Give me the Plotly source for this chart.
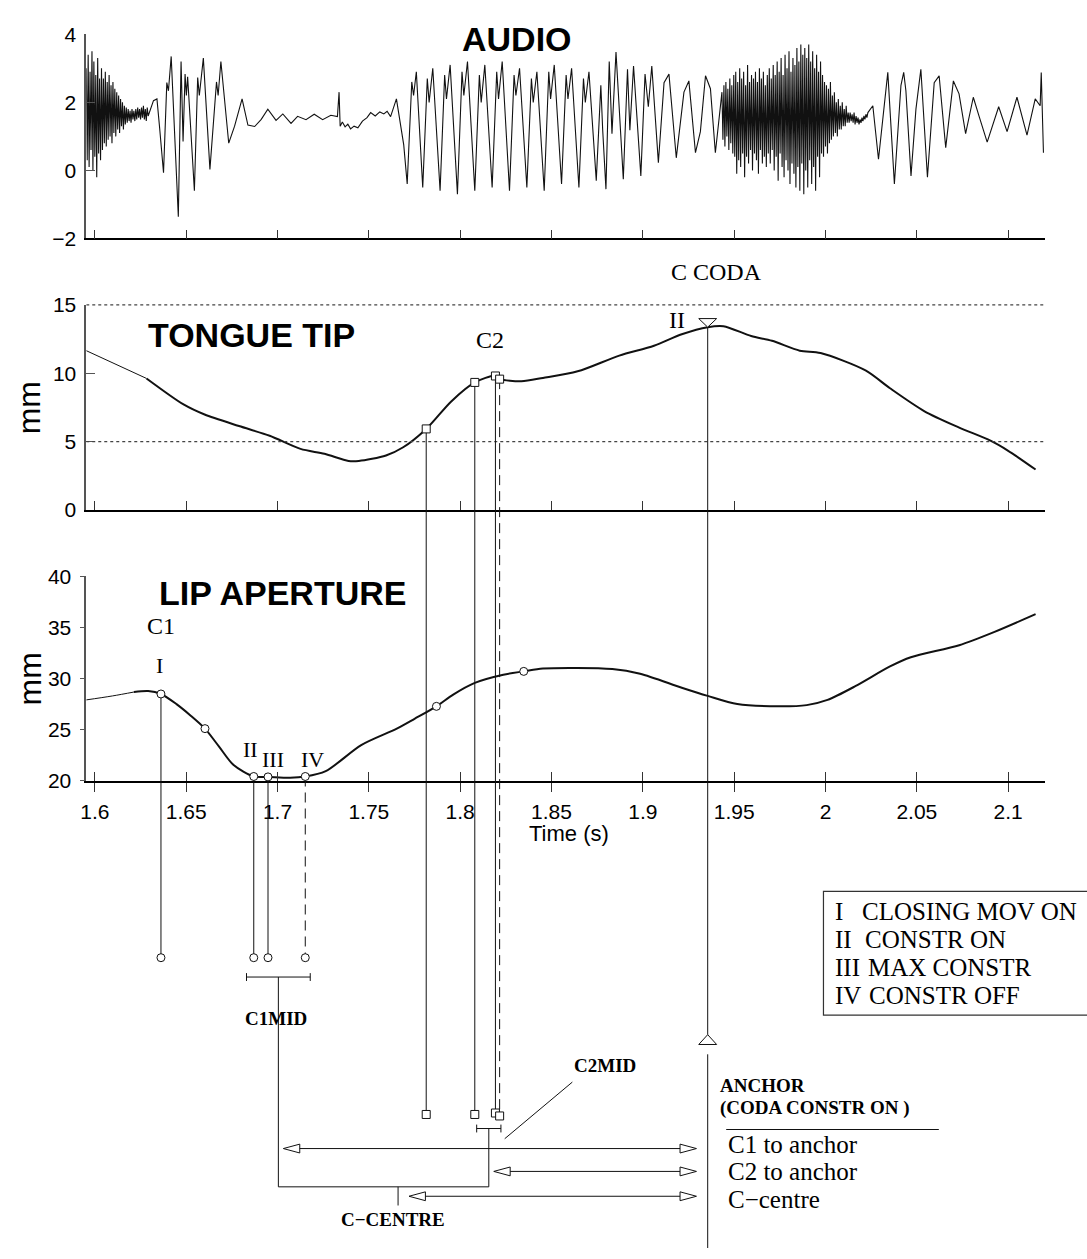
import numpy as np
import plotly.graph_objects as go

# ------------------------------------------------------------------ data
time_ticks = [1.6, 1.65, 1.7, 1.75, 1.8, 1.85, 1.9, 1.95, 2.0, 2.05, 2.1]
time_tick_labels = ["1.6", "1.65", "1.7", "1.75", "1.8", "1.85", "1.9", "1.95", "2", "2.05", "2.1"]
audio_ticks = [-2, 0, 2, 4]
tt_ticks = [0, 5, 10, 15]
tt_ref_levels = [5, 15]
lip_ticks = [20, 25, 30, 35, 40]

# audio: dense noise stretches (span + sample values) and vertex stretches (t, v)
audio_noise1_span = [1.5953, 1.6292]
audio_noise1_v = [3.0, 0.3, 3.4, 0.1, 2.9, 0.6, 3.5, 0.0, 3.2, 0.4, 2.8, -0.2, 3.3, 0.5, 2.7, 0.3,
                  3.0, 0.6, 2.7, 0.8, 2.9, 0.7, 2.6, 0.9, 2.8, 1.0, 2.5, 0.8, 2.6, 1.1,
                  2.4, 1.0, 2.3, 1.2, 2.2, 1.1, 2.1, 1.3, 2.0, 1.2,
                  1.9, 1.35, 1.85, 1.4, 1.8, 1.45, 1.75, 1.4, 1.8, 1.5, 1.75, 1.45, 1.8, 1.5,
                  1.85, 1.55, 1.8, 1.5, 1.85, 1.55, 1.9, 1.5, 1.8, 1.45, 1.85, 1.6]
audio_wave1_t = [1.6321, 1.6340, 1.6354, 1.6376, 1.6394, 1.6403, 1.6418, 1.6457, 1.6472, 1.6483,
                 1.6494, 1.6501, 1.6508, 1.6545, 1.6563, 1.6572, 1.6594, 1.6630, 1.6666, 1.6675,
                 1.6690, 1.6733, 1.6765, 1.6806, 1.6838, 1.6875, 1.6911, 1.6947, 1.6992, 1.7029,
                 1.7074, 1.7110, 1.7156, 1.7201, 1.7247, 1.7292, 1.7328, 1.7337, 1.7343, 1.7355,
                 1.7370, 1.7385, 1.7400, 1.7419, 1.7440, 1.7465, 1.7490, 1.7510, 1.7535, 1.7560,
                 1.7582, 1.7600, 1.7619, 1.7651, 1.7691]
audio_wave1_v = [2.05, 2.10, 1.29, -0.07, 2.58, 2.34, 3.35, -1.36, 3.20, 0.85,
                 2.83, 2.20, 2.75, -0.60, 2.73, 2.20, 3.30, 0.03, 2.60, 2.20,
                 3.20, 0.80, 1.30, 2.10, 1.33, 1.29, 1.50, 1.80, 1.47, 1.66,
                 1.38, 1.59, 1.49, 1.65, 1.49, 1.62, 1.58, 2.30, 1.30, 1.42,
                 1.28, 1.36, 1.22, 1.30, 1.25, 1.45, 1.55, 1.70, 1.60, 1.72,
                 1.66, 1.74, 1.58, 2.10, 0.75]
audio_wave2_t = [1.7710, 1.7735, 1.7745, 1.7760, 1.7795, 1.7820, 1.7830, 1.7850, 1.7890, 1.7915,
                 1.7925, 1.7945, 1.7985, 1.8010, 1.8020, 1.8040, 1.8080, 1.8105, 1.8115, 1.8135,
                 1.8175, 1.8200, 1.8210, 1.8230, 1.8270, 1.8295, 1.8305, 1.8325, 1.8365, 1.8390,
                 1.8400, 1.8420, 1.8460, 1.8485, 1.8495, 1.8515, 1.8555, 1.8580, 1.8590, 1.8610,
                 1.8650, 1.8675, 1.8685, 1.8705, 1.8745, 1.8770]
audio_wave2_v = [-0.4, 2.6, 2.2, 2.9, -0.5, 2.7, 2.0, 3.0, -0.6, 2.8,
                 2.1, 3.1, -0.7, 2.9, 2.2, 3.2, -0.6, 2.8, 2.0, 3.1,
                 -0.5, 2.9, 2.1, 3.2, -0.6, 2.8, 2.2, 3.0, -0.5, 2.7,
                 2.0, 2.9, -0.6, 2.9, 2.1, 3.1, -0.4, 2.8, 2.1, 3.0,
                 -0.5, 2.7, 2.0, 2.9, -0.3, 2.5]
audio_wave3_t = [1.8780, 1.8798, 1.8816, 1.8831, 1.8853, 1.8893, 1.8916, 1.8929, 1.8949, 1.8989,
                 1.9012, 1.9030, 1.9049, 1.9085, 1.9116, 1.9143, 1.9183, 1.9225, 1.9252, 1.9288,
                 1.9315, 1.9343, 1.9370, 1.9397, 1.9424]
audio_wave3_v = [1.2, -0.55, 3.20, 1.08, 3.48, -0.26, 2.97, 1.18, 3.07, -0.16,
                 2.83, 1.87, 3.07, 0.23, 2.58, 2.83, 0.37, 2.30, 2.63, 0.52,
                 1.14, 2.78, 2.40, 0.52, 1.87]
audio_noise2_span = [1.9433, 2.0232]
audio_noise2_v = [2.3, 0.9, 2.5, 0.7, 2.6, 1.0, 2.4, 0.6, 2.7, 0.8, 2.5, 0.5, 2.8, 0.4,
                  2.9, -0.1, 2.6, 0.3, 3.0, 0.1, 2.7, 0.5, 2.9, -0.2, 2.5, 0.4, 3.1, 0.2, 2.6, 0.6,
                  2.8, 0.0, 2.7, 0.5, 2.9, 0.3, 2.6, -0.1, 3.0, 0.6, 2.7, 0.2, 2.9, 0.4, 2.5, 0.1, 2.8, 0.5,
                  3.0, 0.2, 2.7, 0.6, 3.1, 0.0, 2.8, 0.4, 3.2, -0.3, 2.9, 0.5, 3.3, 0.1, 2.8, -0.2,
                  3.4, 0.3, 3.0, 0.0, 3.5, -0.4, 2.9, 0.2, 3.3, -0.1, 3.1,
                  -0.5, 3.6, 0.1, 3.2, -0.6, 3.7, 0.2, 3.4, -0.7, 3.6, 0.0, 3.3, -0.5, 3.7,
                  0.3, 3.2, -0.4, 3.5, 0.1, 3.0, -0.6, 3.4, 0.4, 2.9, -0.2, 3.2, 0.5,
                  2.8, 0.4, 2.6, 0.7, 2.5, 0.5, 2.4, 0.8, 2.6, 0.9, 2.2, 1.0, 2.3, 1.1,
                  2.0, 1.0, 2.1, 1.2, 1.9, 1.2, 2.0, 1.3, 1.8, 1.3, 1.9, 1.4, 1.7,
                  1.4, 1.7, 1.45, 1.65, 1.4, 1.7, 1.35, 1.6, 1.4, 1.55, 1.35, 1.5, 1.4, 1.55,
                  1.45, 1.6, 1.5, 1.65, 1.55, 1.7]
audio_wave4_t = [2.0259, 2.0290, 2.0341, 2.0377, 2.0413, 2.0428, 2.0440, 2.0468, 2.0495, 2.0522,
                 2.0558, 2.0595, 2.0622, 2.0658, 2.0700, 2.0731, 2.0767, 2.0809, 2.0840, 2.0885,
                 2.0948, 2.0994, 2.1048, 2.1103, 2.1148, 2.1175, 2.1181, 2.1186, 2.1193]
audio_wave4_v = [1.90, 0.33, 2.88, -0.40, 2.50, 2.88, 2.34, -0.16, 1.80, 2.97,
                 -0.20, 2.58, 2.78, 0.67, 2.63, 2.25, 1.08, 2.15, 1.60, 0.83,
                 1.87, 1.14, 2.15, 1.04, 2.10, 1.90, 2.88, 1.90, 0.52]

# tongue tip trajectory (mm)
tt_t = [1.5953, 1.6283, 1.6488, 1.6601, 1.6789, 1.6957, 1.7126, 1.7257, 1.7389, 1.7445,
        1.7594, 1.7688, 1.7814, 1.7951, 1.8080, 1.8190, 1.8218, 1.8335, 1.8453, 1.8643,
        1.8871, 1.9061, 1.9213, 1.9355, 1.9441, 1.9593, 1.9707, 1.9859, 1.9973, 2.0219,
        2.0353, 2.0542, 2.0732, 2.0903, 2.0998, 2.1150]
tt_v = [11.65, 9.62, 7.70, 6.98, 6.14, 5.43, 4.47, 4.11, 3.59, 3.59,
        3.99, 4.59, 5.93, 7.94, 9.33, 9.81, 9.57, 9.42, 9.66, 10.14,
        11.29, 12.01, 12.85, 13.37, 13.44, 12.72, 12.37, 11.65, 11.48, 10.21,
        8.90, 7.22, 6.03, 5.07, 4.35, 2.96]

# lip aperture trajectory (mm)
lip_t = [1.5953, 1.6097, 1.6214, 1.6292, 1.6362, 1.6447, 1.6525, 1.6603, 1.6680, 1.6758,
         1.6870, 1.6948, 1.7069, 1.7152, 1.7264, 1.7458, 1.7653, 1.7750, 1.7870, 1.7964,
         1.8080, 1.8236, 1.8348, 1.8453, 1.8833, 1.8985, 1.9213, 1.9355, 1.9517, 1.9745,
         1.9897, 2.0011, 2.0163, 2.0353, 2.0467, 2.0732, 2.0922, 2.1150]
lip_v = [27.93, 28.32, 28.70, 28.80, 28.51, 27.52, 26.39, 25.12, 23.36, 21.59,
         20.44, 20.40, 20.32, 20.44, 20.96, 23.51, 25.12, 26.08, 27.30, 28.48,
         29.60, 30.40, 30.72, 31.00, 30.95, 30.49, 29.12, 28.32, 27.52, 27.30,
         27.42, 27.93, 29.27, 31.20, 32.10, 33.28, 34.56, 36.32]

# landmark markers on the lip curve
lip_mark_t = [1.6362, 1.6603, 1.6870, 1.6948, 1.7152, 1.7870, 1.8348]
lip_mark_v = [28.51, 25.12, 20.44, 20.40, 20.44, 27.30, 30.72]

# C1 (lips) gestural landmarks I..IV
c1_labels = ["I", "II", "III", "IV"]
c1_t = [1.6362, 1.6870, 1.6948, 1.7152]
c1_v = [28.51, 20.44, 20.40, 20.44]
# C2 (tongue tip) gestural landmarks I..IV
c2_t = [1.7814, 1.8080, 1.8193, 1.8216]
c2_v = [5.93, 9.33, 9.80, 9.57]
# coda constriction onset (anchor)
anchor_t = 1.9355
anchor_v = 13.37
# c-centre as drawn
c_centre_t = 1.7660

legend_numerals = ["I", "II", "III", "IV"]
legend_texts = ["CLOSING MOV ON", "CONSTR ON", "MAX CONSTR", "CONSTR OFF"]
interval_labels = ["C1 to anchor", "C2 to anchor", "C\u2212centre"]

# ------------------------------------------------------------------ layout constants
W, H = 1087, 1259
X_L, X_R = 80.7, 1044.3
T_MIN, T_MAX = 1.5953, 2.1199
PPS = (X_R - X_L) / (T_MAX - T_MIN)
PANELS = {"audio": (22.7, 230.7, -2, 4), "tt": (298.3, 507.3, 0, 15), "lip": (575.0, 783.3, 20, 40)}

SANS = "Liberation Sans"
SERIF = "Liberation Serif"
INK = "#111111"
AXG = "#555555"


def dom(panel):
    top, bot, lo, hi = PANELS[panel]
    return [1 - bot / H, 1 - top / H]


def vpx(panel, v):
    top, bot, lo, hi = PANELS[panel]
    return top + (hi - v) / (hi - lo) * (bot - top)


def dt(px):
    return px / PPS


def tx(t):
    return X_L + (t - T_MIN) * PPS


fig = go.Figure()

# ---------------- audio
a_t = list(np.linspace(audio_noise1_span[0], audio_noise1_span[1], len(audio_noise1_v)))
a_v = list(audio_noise1_v)
a_t += audio_wave1_t + audio_wave2_t + audio_wave3_t
a_v += audio_wave1_v + audio_wave2_v + audio_wave3_v
a_t += list(np.linspace(audio_noise2_span[0], audio_noise2_span[1], len(audio_noise2_v)))
a_v += audio_noise2_v
a_t += audio_wave4_t
a_v += audio_wave4_v
fig.add_trace(go.Scatter(x=a_t, y=a_v, mode="lines", line=dict(color=INK, width=1.1),
                         xaxis="x", yaxis="y", hoverinfo="skip"))

# ---------------- tongue tip curve
fig.add_trace(go.Scatter(x=tt_t[:2], y=tt_v[:2], mode="lines", line=dict(color=INK, width=1),
                         xaxis="x2", yaxis="y2"))
fig.add_trace(go.Scatter(x=tt_t[1:], y=tt_v[1:], mode="lines",
                         line=dict(color=INK, width=2, shape="spline", smoothing=0.8),
                         xaxis="x2", yaxis="y2"))

# ---------------- lip curve
fig.add_trace(go.Scatter(x=lip_t[:3], y=lip_v[:3], mode="lines",
                         line=dict(color=INK, width=1, shape="spline"), xaxis="x3", yaxis="y3"))
fig.add_trace(go.Scatter(x=lip_t[2:], y=lip_v[2:], mode="lines",
                         line=dict(color=INK, width=2, shape="spline", smoothing=0.8),
                         xaxis="x3", yaxis="y3"))
# dummy for the overlay tick axis
fig.add_trace(go.Scatter(x=[None], y=[None], xaxis="x5", yaxis="y3", showlegend=False))

# ---------------- diagram layer (x4: time, y4: figure pixels)
def seg(xs, ys, dash="solid", width=1.0, color=INK):
    fig.add_trace(go.Scatter(x=xs, y=ys, mode="lines", line=dict(color=color, width=width, dash=dash),
                             xaxis="x4", yaxis="y4", hoverinfo="skip"))


# dotted reference levels in tongue panel
for lev in tt_ref_levels:
    seg([T_MIN, T_MAX], [vpx("tt", lev)] * 2, dash="dot", color="#444444", width=1.2)

C1_LOW_Y = 963.3
C2_LOW_Y = [1123.0, 1123.0, 1121.5, 1124.5]
dashes = ["solid", "solid", "solid", "10px,6px"]

for t, v, d in zip(c1_t, c1_v, dashes):
    seg([t, t], [vpx("lip", v), C1_LOW_Y], dash=d)
for t, v, d, yl in zip(c2_t, c2_v, dashes, C2_LOW_Y):
    seg([t, t], [vpx("tt", v), yl], dash=d)

# anchor line
TRI_DOWN_TOP = 312.3
TRI_UP_APEX, TRI_UP_BASE = 1041.7, 1051.7
ANCHOR_LINE2_Y0 = 1061.7
seg([anchor_t, anchor_t], [vpx("tt", anchor_v), TRI_UP_APEX])
seg([anchor_t, anchor_t], [ANCHOR_LINE2_Y0, H])

# C1MID bracket
C1MID_Y = 983.0
c1b_l, c1b_r = c1_t[1] - dt(7.3), c1_t[3] + dt(5.0)
c1_mid = (c1b_l + c1b_r) / 2
CAP = 4.0
seg([c1b_l, c1b_r], [C1MID_Y, C1MID_Y])
seg([c1b_l, c1b_l], [C1MID_Y - CAP, C1MID_Y + CAP])
seg([c1b_r, c1b_r], [C1MID_Y - CAP, C1MID_Y + CAP])
# C2MID bracket
C2MID_Y = 1137.3
c2b_l, c2b_r = c2_t[1] + dt(1.9), c2_t[3] + dt(1.3)
c2_mid = (c2b_l + c2b_r) / 2
seg([c2b_l, c2b_r], [C2MID_Y, C2MID_Y])
seg([c2b_l, c2b_l], [C2MID_Y - CAP, C2MID_Y + CAP])
seg([c2b_r, c2b_r], [C2MID_Y - CAP, C2MID_Y + CAP])
# c-centre connector
CC_Y = 1196.7
CC_TICK = 1215.7
seg([c1_mid, c1_mid, c2_mid, c2_mid], [C1MID_Y, CC_Y, CC_Y, C2MID_Y])
seg([c_centre_t, c_centre_t], [CC_Y, CC_TICK])

# interval arrows
ARROW_Y = [1157.7, 1181.0, 1206.3]
AH_L, AH_H = 16.5, 4.5
starts = [c1_mid + dt(5.0), c2_mid + dt(5.0), c_centre_t + dt(11.0)]
end_t = anchor_t - dt(11.3)
for y, s in zip(ARROW_Y, starts):
    seg([s + dt(AH_L), end_t - dt(AH_L)], [y, y])
    seg([s + dt(AH_L), s, s + dt(AH_L), s + dt(AH_L)], [y - AH_H, y, y + AH_H, y - AH_H])
    seg([end_t - dt(AH_L), end_t, end_t - dt(AH_L), end_t - dt(AH_L)], [y - AH_H, y, y + AH_H, y - AH_H])

# triangles of anchor
TRI_HW = 9.0
fig.add_trace(go.Scatter(x=[anchor_t - dt(TRI_HW), anchor_t + dt(TRI_HW), anchor_t, anchor_t - dt(TRI_HW)],
                         y=[TRI_DOWN_TOP, TRI_DOWN_TOP, vpx("tt", anchor_v), TRI_DOWN_TOP],
                         mode="lines", fill="toself", fillcolor="white", line=dict(color=INK, width=1),
                         xaxis="x4", yaxis="y4"))
fig.add_trace(go.Scatter(x=[anchor_t - dt(TRI_HW), anchor_t + dt(TRI_HW), anchor_t, anchor_t - dt(TRI_HW)],
                         y=[TRI_UP_BASE, TRI_UP_BASE, TRI_UP_APEX, TRI_UP_BASE],
                         mode="lines", fill="toself", fillcolor="white", line=dict(color=INK, width=1),
                         xaxis="x4", yaxis="y4"))

# markers
mk_c = dict(symbol="circle", size=8, color="white", line=dict(color=INK, width=1))
mk_s = dict(symbol="square", size=8, color="white", line=dict(color=INK, width=1))
fig.add_trace(go.Scatter(x=lip_mark_t, y=[vpx("lip", v) for v in lip_mark_v], mode="markers",
                         marker=mk_c, xaxis="x4", yaxis="y4"))
fig.add_trace(go.Scatter(x=c1_t, y=[C1_LOW_Y] * 4, mode="markers", marker=mk_c, xaxis="x4", yaxis="y4"))
fig.add_trace(go.Scatter(x=c2_t, y=[vpx("tt", v) for v in c2_v], mode="markers", marker=mk_s,
                         xaxis="x4", yaxis="y4"))
fig.add_trace(go.Scatter(x=c2_t, y=C2_LOW_Y, mode="markers", marker=mk_s, xaxis="x4", yaxis="y4"))

# ------------------------------------------------------------------ axes
xcommon = dict(domain=[X_L / W, X_R / W], range=[T_MIN, T_MAX], tickvals=time_ticks,
               showgrid=False, zeroline=False, showline=True, linecolor="black", linewidth=1.5,
               ticks="inside", ticklen=9, tickcolor="#333333", tickwidth=1.3)
ycommon = dict(showgrid=False, zeroline=False, showline=True, linecolor=AXG, linewidth=1.5,
               ticks="inside", ticklen=9, tickcolor=AXG, tickwidth=1.3,
               tickfont=dict(family=SANS, size=21, color="black"), ticklabelstandoff=4)

fig.update_layout(
    width=W, height=H, margin=dict(l=0, r=0, t=0, b=0),
    paper_bgcolor="white", plot_bgcolor="rgba(0,0,0,0)", showlegend=False,
    font=dict(family=SANS, color="black"),
    xaxis=dict(**xcommon, anchor="y", showticklabels=False),
    yaxis=dict(**ycommon, domain=dom("audio"), range=[-2, 4], tickvals=audio_ticks, anchor="x"),
    xaxis2=dict(**xcommon, anchor="y2", showticklabels=False),
    yaxis2=dict(**ycommon, domain=dom("tt"), range=[0, 15], tickvals=tt_ticks, anchor="x2"),
    xaxis3=dict(**{**xcommon, "ticks": "outside"}, anchor="y3", ticktext=time_tick_labels,
                tickfont=dict(family=SANS, size=21, color="black"), ticklabelstandoff=2),
    yaxis3=dict(**{**ycommon, "ticks": "outside", "ticklen": 5}, domain=dom("lip"), range=[20, 40],
                tickvals=lip_ticks, anchor="x3"),
    xaxis5=dict(**{**xcommon, "showline": False}, overlaying="x3", anchor="y3", showticklabels=False),
    xaxis4=dict(domain=[X_L / W, X_R / W], range=[T_MIN, T_MAX], visible=False, anchor="y4"),
    yaxis4=dict(domain=[0, 1], range=[H, 0], visible=False, anchor="x4"),
)


# ------------------------------------------------------------------ text
def ann(x, y, text, size, family=SERIF, bold=False, xanchor="center", angle=0):
    fig.add_annotation(x=x / W, y=1 - y / H, xref="paper", yref="paper", text=f"<b>{text}</b>" if bold else text,
                       showarrow=False, xanchor=xanchor, yanchor="middle", textangle=angle,
                       font=dict(family=family, size=size, color="black"))


ann(514, 27, "AUDIO", 34, SANS, True)
ann(246.5, 329.3, "TONGUE TIP", 34, SANS, True)
ann(277.7, 591.7, "LIP APERTURE", 34, SANS, True)
ann(24, 402.8, "mm", 32, SANS, angle=-90)
ann(24, 679.0, "mm", 32, SANS, angle=-90)
ann(565.8, 836.7, "Time (s)", 22, SANS)

ann(155.4, 625, "C1", 24)
for lab, (x, y) in zip(c1_labels, [(154.6, 666), (245.7, 751.7), (268.6, 761.7), (307.9, 761.7)]):
    ann(x, y, lab, 22)
ann(486.6, 334, "C2", 24)
ann(714.3, 265, "C CODA", 24)
ann(674.3, 313.3, "II", 24)

ann(271.7, 1025.7, "C1MID", 19, bold=True)
ann(602.0, 1073.3, "C2MID", 19, bold=True)
ann(389.3, 1230.0, "C\u2212CENTRE", 19, bold=True)
ann(716.3, 1093.3, "ANCHOR", 19, bold=True, xanchor="left")
ann(716.3, 1116.7, "(CODA CONSTR ON )", 19, bold=True, xanchor="left")
for lab, y in zip(interval_labels, [1153.5, 1181.5, 1209.5]):
    ann(724.2, y, lab, 25, xanchor="left")

for num, txt, y, xt in zip(legend_numerals, legend_texts, [916.7, 945.0, 973.3, 1001.6],
                           [859.2, 862.2, 864.4, 865.3]):
    ann(831.6, y, num, 25, xanchor="left")
    ann(xt, y, txt, 25, xanchor="left")

# legend box, anchor underline, C2MID pointer
fig.add_shape(type="rect", xref="paper", yref="paper", x0=822 / W, x1=1.02, y0=1 - 1021.7 / H, y1=1 - 895.7 / H,
              line=dict(color="#333333", width=1.2))
fig.add_shape(type="line", xref="paper", yref="paper", x0=724.2 / W, x1=938 / W, y0=1 - 1138.3 / H,
              y1=1 - 1138.3 / H, line=dict(color=INK, width=1))
fig.add_shape(type="line", xref="paper", yref="paper", x0=(tx(c2_mid) + 16) / W, y0=1 - 1147.7 / H,
              x1=(tx(c2_mid) + 84) / W, y1=1 - 1090 / H, line=dict(color=INK, width=1))

fig.write_html("out.html", config={"displayModeBar": False},
               post_script="document.body.style.margin='0';")
